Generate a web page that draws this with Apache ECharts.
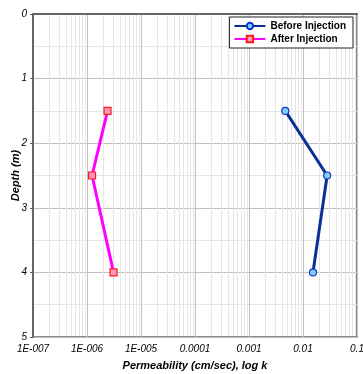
<!DOCTYPE html>
<html>
<head>
<meta charset="utf-8">
<script src="https://cdn.jsdelivr.net/npm/echarts@6/dist/echarts.min.js"></script>
<style>html,body{margin:0;padding:0;background:#fff;}#c{width:363px;height:374px;}</style>
</head>
<body>
<div id="c"></div>
<script>
var depths = [1.5, 2.5, 4.0];
var beforeK = [0.0047, 0.028, 0.0153];
var afterK = [2.4e-6, 1.24e-6, 3.1e-6];
var xTickLabels = ['1E-007', '1E-006', '1E-005', '0.0001', '0.001', '0.01', '0.1'];
var yTickLabels = ['0', '1', '2', '3', '4', '5'];

var minorX = [];
for (var d = -7; d <= -2; d++) {
  for (var m = 2; m <= 9; m++) minorX.push([m * Math.pow(10, d), 0]);
}
function pairs(ks) { return ks.map(function (k, i) { return [k, depths[i]]; }); }

var chart = echarts.init(document.getElementById('c'));
chart.setOption({
  animation: false,
  backgroundColor: '#fff',
  textStyle: { fontFamily: 'Liberation Sans, Arial, sans-serif' },
  grid: { left: 33, top: 14, right: 6, bottom: 37, containLabel: false, outerBoundsMode: 'none',
    show: true, borderColor: '#666', borderWidth: 1.5, backgroundColor: '#fff' },
  legend: {
    orient: 'vertical', right: 10, top: 17, z: 20,
    backgroundColor: '#fff', borderColor: '#222', borderWidth: 1,
    padding: [4, 7, 4, 4], itemGap: 3, itemWidth: 31, itemHeight: 8,
    textStyle: { fontSize: 10, fontWeight: 'bold', color: '#000', fontFamily: 'Liberation Sans, Arial, sans-serif' },
    data: ['Before Injection', 'After Injection']
  },
  xAxis: {
    type: 'log', logBase: 10, min: 1e-7, max: 0.1, splitNumber: 6,
    name: 'Permeability (cm/sec), log k', nameLocation: 'middle', nameGap: 23, nameMoveOverlap: false,
    nameTextStyle: { fontSize: 11, fontWeight: 'bold', fontStyle: 'italic', color: '#000' },
    axisLine: { lineStyle: { color: '#666', width: 2 } },
    axisTick: { show: false },
    axisLabel: {
      fontSize: 10, fontStyle: 'italic', color: '#000', margin: 7,
      formatter: function (v) { var i = Math.round(Math.log10(v)) + 7; return xTickLabels[i]; }
    },
    splitLine: { show: true, lineStyle: { color: '#c0c0c0', width: 1 } }
  },
  yAxis: {
    type: 'value', inverse: true, min: 0, max: 5, interval: 1,
    name: 'Depth (m)', nameLocation: 'middle', nameGap: 12, nameMoveOverlap: false,
    nameTextStyle: { fontSize: 11, fontWeight: 'bold', fontStyle: 'italic', color: '#000' },
    axisLine: { show: true, lineStyle: { color: '#666', width: 2 } },
    axisTick: { show: true, length: 3, lineStyle: { color: '#666' } },
    axisLabel: { fontSize: 10, fontStyle: 'italic', color: '#000', margin: 6,
      formatter: function (v) { return yTickLabels[Math.round(v)]; } },
    splitLine: { show: true, lineStyle: { color: '#c0c0c0', width: 1 } },
    minorTick: { show: false, splitNumber: 2 },
    minorSplitLine: { show: true, lineStyle: { color: '#e6e6e6', width: 1 } }
  },
  series: [
    {
      name: 'minorGrid', type: 'custom', data: minorX, z: 1, silent: true,
      renderItem: function (params, api) {
        var v = api.value(0);
        var p0 = api.coord([v, 0]);
        var p1 = api.coord([v, 5]);
        return { type: 'line', shape: { x1: Math.round(p0[0]) + 0.5, y1: p0[1] + 1, x2: Math.round(p1[0]) + 0.5, y2: p1[1] - 1 },
          style: { stroke: '#e6e6e6', lineWidth: 1 } };
      }
    },
    {
      name: 'Before Injection', type: 'line', data: pairs(beforeK), z: 5,
      symbol: 'circle', symbolSize: 7,
      lineStyle: { color: '#0a2f95', width: 3 },
      itemStyle: { color: '#7fd0f5', borderColor: '#1533cc', borderWidth: 1.2 }
    },
    {
      name: 'After Injection', type: 'line', data: pairs(afterK), z: 5,
      symbol: 'rect', symbolSize: 7,
      lineStyle: { color: '#ff00ff', width: 3 },
      itemStyle: { color: '#ff99bb', borderColor: '#ff1a1a', borderWidth: 1.2 }
    }
  ]
});
</script>
</body>
</html>
